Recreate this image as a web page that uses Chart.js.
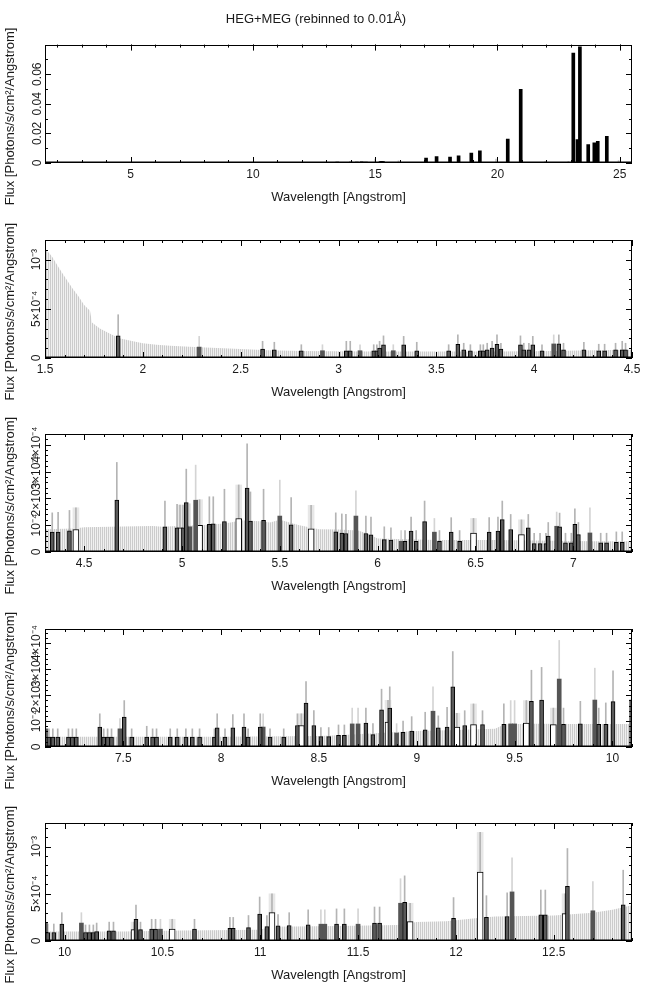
<!DOCTYPE html>
<html>
<head>
<meta charset="utf-8">
<title>HEG+MEG (rebinned to 0.01Å)</title>
<script src="https://cdn.jsdelivr.net/npm/chart.js@4.4.1/dist/chart.umd.min.js"></script>
<style>
  html, body { margin: 0; padding: 0; background: #fff; }
  body { position: relative; width: 650px; height: 991px; overflow: hidden; }
  canvas { position: absolute; left: 0; }
</style>
</head>
<body>
<canvas id="panel1" width="650" height="215" style="top:0px"></canvas>
<canvas id="panel2" width="650" height="215" style="top:204px"></canvas>
<canvas id="panel3" width="650" height="215" style="top:398px"></canvas>
<canvas id="panel4" width="650" height="215" style="top:593px"></canvas>
<canvas id="panel5" width="650" height="215" style="top:787px"></canvas>
<script>
Chart.defaults.font.family = "'Liberation Sans', Arial, Helvetica, sans-serif";
Chart.defaults.color = "#1a1a1a";
Chart.defaults.animation = false;

// ---------- panel 1: full range 1.5 - 25.5 A ----------
const p1XTicks = [5, 10, 15, 20, 25];
const p1XLabels = ["5", "10", "15", "20", "25"];
const p1YTicks = [0, 0.02, 0.04, 0.06];
const p1YLabels = ["0", "0.02", "0.04", "0.06"];
// [wavelength, flux]
const p1Lines = [
  [2.6, 0.0003], [3.9, 0.0003], [5.3, 0.0004], [6.8, 0.0003], [8.1, 0.0004],
  [9.3, 0.0004], [10.4, 0.0005], [11.2, 0.0004], [12.0, 0.0005], [12.6, 0.0004],
  [13.45, 0.0007], [14.0, 0.0006], [14.25, 0.0007], [14.45, 0.0008], [14.62, 0.0006],
  [15.22, 0.0009], [15.27, 0.0009], [15.32, 0.0009], [16.0, 0.0004],
  [17.08, 0.0033], [17.51, 0.0044], [18.06, 0.0040], [18.41, 0.0049], [18.93, 0.0067],
  [19.28, 0.0082], [20.42, 0.0162], [20.95, 0.0498], [23.1, 0.0743], [23.27, 0.0158],
  [23.37, 0.0785], [23.71, 0.0125], [23.96, 0.0136], [24.1, 0.0147], [24.47, 0.0181]
];
// [wavelength, upper error] for the isolated grey bars
const p1Errs = [[15.0, 0.0027], [15.95, 0.0014], [19.94, 0.0027], [21.95, 0.0012], [22.9, 0.0012], [24.95, 0.0016]];

// ---------- panel 2: 1.5 - 4.5 A ----------
const p2XTicks = [1.5, 2, 2.5, 3, 3.5, 4, 4.5];
const p2XLabels = ["1.5", "2", "2.5", "3", "3.5", "4", "4.5"];
const p2YTicks = [0, 5e-4, 1e-3];
const p2YLabels = ["0", "5×10⁻⁴", "10⁻³"];
// upper error envelope of the empty bins [wavelength, flux]
const p2Env = [
  [1.5, 11.0e-4], [1.52, 10.7e-4], [1.54, 10.2e-4], [1.57, 9.2e-4], [1.6, 8.3e-4], [1.64, 7.1e-4],
  [1.67, 6.3e-4], [1.7, 5.4e-4], [1.73, 4.8e-4], [1.74, 3.6e-4], [1.78, 3.0e-4], [1.83, 2.5e-4],
  [1.88, 2.0e-4], [1.95, 1.7e-4], [2.0, 1.5e-4], [2.07, 1.35e-4], [2.14, 1.25e-4], [2.29, 1.1e-4],
  [2.47, 0.94e-4], [2.64, 0.8e-4], [2.8, 0.72e-4], [2.97, 0.68e-4], [3.2, 0.66e-4], [3.5, 0.66e-4],
  [3.8, 0.66e-4], [4.1, 0.7e-4], [4.3, 0.8e-4], [4.5, 0.85e-4]
];
// detected bins [wavelength, flux, upper error, kind]  d = dark, g = grey, o = open
const p2Bins = [
  [1.874, 2.26e-4, 4.4e-4, "d"], [2.288, 1.11e-4, 2.2e-4, "g"], [2.612, 0.91e-4, 1.7e-4, "d"],
  [2.672, 0.84e-4, 1.6e-4, "d"], [2.81, 0.74e-4, 1.35e-4, "d"], [2.918, 0.74e-4, 1.35e-4, "g"],
  [3.04, 0.74e-4, 1.7e-4, "d"], [3.06, 0.74e-4, 1.7e-4, "d"], [3.11, 0.74e-4, 1.35e-4, "g"],
  [3.18, 0.74e-4, 1.35e-4, "d"], [3.196, 0.74e-4, 1.35e-4, "d"], [3.21, 1.0e-4, 1.7e-4, "d"],
  [3.23, 1.35e-4, 2.25e-4, "d"], [3.28, 0.74e-4, 1.35e-4, "g"], [3.333, 1.35e-4, 2.2e-4, "d"],
  [3.40, 0.74e-4, 1.6e-4, "d"], [3.563, 0.74e-4, 1.35e-4, "d"], [3.61, 1.4e-4, 2.35e-4, "d"],
  [3.64, 0.84e-4, 1.5e-4, "d"], [3.674, 0.74e-4, 1.35e-4, "d"], [3.725, 0.74e-4, 1.35e-4, "d"],
  [3.74, 0.74e-4, 1.35e-4, "d"], [3.76, 0.84e-4, 1.5e-4, "d"], [3.785, 1.0e-4, 1.7e-4, "d"],
  [3.81, 1.4e-4, 2.35e-4, "d"], [3.83, 0.9e-4, 1.5e-4, "d"], [3.93, 1.35e-4, 2.25e-4, "d"],
  [3.947, 0.84e-4, 1.5e-4, "d"], [3.973, 0.84e-4, 1.5e-4, "d"], [3.993, 1.35e-4, 2.2e-4, "d"],
  [4.04, 0.74e-4, 1.35e-4, "d"], [4.10, 1.43e-4, 2.35e-4, "g"], [4.126, 1.43e-4, 2.35e-4, "d"],
  [4.15, 0.84e-4, 1.5e-4, "d"], [4.254, 0.84e-4, 1.6e-4, "d"], [4.33, 0.74e-4, 1.4e-4, "d"],
  [4.36, 0.74e-4, 1.4e-4, "d"], [4.416, 0.84e-4, 1.5e-4, "d"], [4.45, 0.84e-4, 1.7e-4, "d"],
  [4.467, 0.84e-4, 1.5e-4, "d"]
];

// ---------- panel 3: 4.3 - 7.3 A ----------
const p3XTicks = [4.5, 5, 5.5, 6, 6.5, 7];
const p3XLabels = ["4.5", "5", "5.5", "6", "6.5", "7"];
const p3YTicks = [0, 1e-4, 2e-4, 3e-4, 4e-4];
const p3YLabels = ["0", "10⁻⁴", "2×10⁻⁴", "3×10⁻⁴", "4×10⁻⁴"];
const p3Env = [
  [4.3, 0.85e-4], [4.45, 0.88e-4], [4.5, 0.92e-4], [4.7, 0.95e-4], [4.85, 0.97e-4], [4.9, 0.94e-4],
  [5.0, 0.98e-4], [5.1, 1.0e-4], [5.2, 1.05e-4], [5.25, 1.1e-4], [5.3, 1.18e-4], [5.4, 1.15e-4],
  [5.45, 1.1e-4], [5.5, 1.2e-4], [5.55, 1.1e-4], [5.6, 1.0e-4], [5.7, 0.85e-4], [5.8, 0.84e-4],
  [5.9, 0.8e-4], [5.95, 0.68e-4], [6.0, 0.5e-4], [6.3, 0.45e-4], [6.6, 0.45e-4], [6.9, 0.42e-4],
  [7.1, 0.4e-4], [7.3, 0.4e-4]
];
const p3Bins = [
  [4.337, 0.74e-4, 1.46e-4, "d"], [4.367, 0.74e-4, 1.48e-4, "d"], [4.425, 0.79e-4, 1.55e-4, "d"],
  [4.458, 0.84e-4, 1.65e-4, "o"], [4.667, 1.94e-4, 3.34e-4, "d"], [4.913, 0.94e-4, 1.9e-4, "d"],
  [4.975, 0.9e-4, 1.78e-4, "d"], [4.99, 0.9e-4, 1.75e-4, "o"], [5.005, 0.9e-4, 1.75e-4, "d"],
  [5.022, 1.84e-4, 3.09e-4, "d"], [5.04, 0.94e-4, 1.8e-4, "g"], [5.07, 1.93e-4, 3.24e-4, "g"],
  [5.09, 0.99e-4, 1.95e-4, "o"], [5.14, 1.03e-4, 2.06e-4, "d"], [5.16, 1.05e-4, 2.06e-4, "d"],
  [5.217, 1.13e-4, 2.34e-4, "d"], [5.29, 1.25e-4, 2.5e-4, "o"], [5.333, 2.38e-4, 4.03e-4, "d"],
  [5.35, 1.15e-4, 2.24e-4, "d"], [5.417, 1.18e-4, 2.34e-4, "d"], [5.5, 1.34e-4, 2.68e-4, "g"],
  [5.558, 1.01e-4, 2.03e-4, "d"], [5.66, 0.86e-4, 1.74e-4, "o"], [5.786, 0.75e-4, 1.46e-4, "d"],
  [5.817, 0.71e-4, 1.42e-4, "d"], [5.838, 0.69e-4, 1.4e-4, "d"], [5.889, 1.34e-4, 2.28e-4, "g"],
  [5.94, 0.69e-4, 1.34e-4, "d"], [5.966, 0.64e-4, 1.3e-4, "d"], [6.034, 0.46e-4, 0.94e-4, "d"],
  [6.068, 0.44e-4, 0.9e-4, "d"], [6.12, 0.4e-4, 0.8e-4, "g"], [6.14, 0.4e-4, 0.8e-4, "d"],
  [6.171, 0.78e-4, 1.3e-4, "d"], [6.197, 0.4e-4, 0.8e-4, "d"], [6.24, 1.13e-4, 1.9e-4, "d"],
  [6.29, 0.74e-4, 1.25e-4, "g"], [6.316, 0.4e-4, 0.8e-4, "d"], [6.376, 0.74e-4, 1.28e-4, "d"],
  [6.419, 0.4e-4, 0.8e-4, "d"], [6.49, 0.71e-4, 1.25e-4, "o"], [6.57, 0.74e-4, 1.28e-4, "d"],
  [6.615, 0.78e-4, 1.3e-4, "d"], [6.637, 1.21e-4, 1.9e-4, "d"], [6.68, 0.84e-4, 1.4e-4, "d"],
  [6.735, 0.65e-4, 1.2e-4, "o"], [6.77, 0.9e-4, 1.4e-4, "d"], [6.8, 0.31e-4, 0.7e-4, "d"],
  [6.83, 0.31e-4, 0.7e-4, "d"], [6.86, 0.31e-4, 0.7e-4, "d"], [6.872, 0.59e-4, 1.1e-4, "d"],
  [6.915, 0.96e-4, 1.49e-4, "g"], [6.93, 0.94e-4, 1.45e-4, "d"], [6.96, 0.34e-4, 0.7e-4, "d"],
  [6.99, 0.34e-4, 0.7e-4, "d"], [7.008, 1.03e-4, 1.61e-4, "d"], [7.026, 0.65e-4, 1.1e-4, "d"],
  [7.085, 0.71e-4, 1.65e-4, "g"], [7.14, 0.34e-4, 0.7e-4, "d"], [7.17, 0.34e-4, 0.7e-4, "d"],
  [7.22, 0.36e-4, 0.75e-4, "d"], [7.25, 0.36e-4, 0.75e-4, "d"]
];

// ---------- panel 4: 7.1 - 10.1 A ----------
const p4XTicks = [7.5, 8, 8.5, 9, 9.5, 10];
const p4XLabels = ["7.5", "8", "8.5", "9", "9.5", "10"];
const p4YTicks = [0, 1e-4, 2e-4, 3e-4, 4e-4];
const p4YLabels = ["0", "10⁻⁴", "2×10⁻⁴", "3×10⁻⁴", "4×10⁻⁴"];
const p4Env = [
  [7.1, 0.4e-4], [7.5, 0.4e-4], [8.0, 0.4e-4], [8.5, 0.42e-4], [8.6, 0.45e-4], [8.9, 0.58e-4],
  [9.0, 0.62e-4], [9.2, 0.66e-4], [9.4, 0.7e-4], [9.45, 0.88e-4], [9.6, 0.9e-4], [9.8, 0.89e-4],
  [10.1, 0.89e-4]
];
const p4Bins = [
  [7.103, 0.7e-4, 1.1e-4, "g"], [7.12, 0.38e-4, 0.7e-4, "d"], [7.14, 0.38e-4, 0.7e-4, "d"],
  [7.165, 0.38e-4, 0.7e-4, "d"], [7.22, 0.38e-4, 0.7e-4, "d"], [7.24, 0.38e-4, 0.7e-4, "d"],
  [7.26, 0.38e-4, 0.7e-4, "d"], [7.38, 0.77e-4, 1.28e-4, "d"], [7.40, 0.38e-4, 0.7e-4, "d"],
  [7.42, 0.38e-4, 0.7e-4, "d"], [7.44, 0.38e-4, 0.7e-4, "d"], [7.483, 0.7e-4, 1.1e-4, "g"],
  [7.505, 1.15e-4, 1.79e-4, "d"], [7.543, 0.38e-4, 0.7e-4, "d"], [7.62, 0.38e-4, 0.8e-4, "d"],
  [7.65, 0.38e-4, 0.7e-4, "d"], [7.67, 0.38e-4, 0.7e-4, "d"], [7.74, 0.38e-4, 0.7e-4, "d"],
  [7.776, 0.38e-4, 0.7e-4, "d"], [7.82, 0.38e-4, 0.7e-4, "d"], [7.853, 0.38e-4, 0.7e-4, "d"],
  [7.89, 0.38e-4, 0.7e-4, "d"], [7.966, 0.38e-4, 0.7e-4, "d"], [7.98, 0.74e-4, 1.28e-4, "d"],
  [8.02, 0.38e-4, 0.7e-4, "d"], [8.06, 0.74e-4, 1.25e-4, "d"], [8.117, 0.77e-4, 1.28e-4, "d"],
  [8.138, 0.38e-4, 0.7e-4, "d"], [8.2, 0.77e-4, 1.28e-4, "d"], [8.215, 0.77e-4, 1.28e-4, "g"],
  [8.25, 0.38e-4, 0.7e-4, "d"], [8.32, 0.38e-4, 0.7e-4, "d"], [8.39, 0.83e-4, 1.28e-4, "d"],
  [8.41, 0.83e-4, 1.28e-4, "o"], [8.434, 1.69e-4, 2.52e-4, "d"], [8.474, 0.83e-4, 1.4e-4, "d"],
  [8.51, 0.4e-4, 0.75e-4, "d"], [8.55, 0.4e-4, 0.75e-4, "d"], [8.6, 0.45e-4, 0.85e-4, "d"],
  [8.63, 0.45e-4, 0.85e-4, "d"], [8.67, 0.89e-4, 1.5e-4, "g"], [8.70, 0.89e-4, 1.5e-4, "g"],
  [8.74, 0.92e-4, 1.5e-4, "d"], [8.776, 0.48e-4, 0.9e-4, "d"], [8.82, 1.43e-4, 2.23e-4, "d"],
  [8.853, 0.96e-4, 1.8e-4, "o"], [8.862, 1.5e-4, 2.32e-4, "d"], [8.897, 0.54e-4, 0.9e-4, "g"],
  [8.93, 0.57e-4, 1.0e-4, "d"], [8.974, 0.61e-4, 1.17e-4, "d"], [9.043, 0.66e-4, 1.34e-4, "d"],
  [9.083, 1.38e-4, 2.32e-4, "g"], [9.11, 0.74e-4, 1.2e-4, "d"], [9.155, 0.77e-4, 1.53e-4, "d"],
  [9.184, 2.32e-4, 3.68e-4, "d"], [9.205, 0.77e-4, 1.3e-4, "o"], [9.245, 0.83e-4, 1.4e-4, "d"],
  [9.29, 0.86e-4, 1.66e-4, "o"], [9.336, 0.86e-4, 1.4e-4, "d"], [9.445, 0.87e-4, 1.66e-4, "d"],
  [9.48, 0.89e-4, 1.79e-4, "g"], [9.5, 0.89e-4, 1.79e-4, "g"], [9.56, 0.92e-4, 1.79e-4, "o"],
  [9.586, 1.76e-4, 2.96e-4, "d"], [9.638, 1.81e-4, 3.07e-4, "d"], [9.698, 0.86e-4, 1.5e-4, "o"],
  [9.728, 2.62e-4, 4.11e-4, "g"], [9.75, 0.87e-4, 1.5e-4, "d"], [9.836, 0.89e-4, 1.76e-4, "d"],
  [9.91, 1.81e-4, 3.04e-4, "g"], [9.93, 0.87e-4, 1.5e-4, "d"], [9.966, 0.87e-4, 1.7e-4, "d"],
  [10.003, 1.75e-4, 2.94e-4, "d"], [10.098, 1.81e-4, 2.9e-4, "g"]
];

// ---------- panel 5: 9.9 - 12.9 A ----------
const p5XTicks = [10, 10.5, 11, 11.5, 12, 12.5];
const p5XLabels = ["10", "10.5", "11", "11.5", "12", "12.5"];
const p5YTicks = [0, 5e-4, 1e-3];
const p5YLabels = ["0", "5×10⁻⁴", "10⁻³"];
const p5Env = [
  [9.9, 0.1e-3], [10.3, 0.1e-3], [10.6, 0.11e-3], [11.0, 0.12e-3], [11.05, 0.15e-3], [11.4, 0.16e-3],
  [11.7, 0.17e-3], [11.8, 0.2e-3], [11.95, 0.21e-3], [12.1, 0.24e-3], [12.2, 0.26e-3], [12.5, 0.27e-3],
  [12.7, 0.3e-3], [12.8, 0.33e-3], [12.9, 0.38e-3]
];
const p5Bins = [
  [9.902, 0.196e-3, 0.3e-3, "g"], [9.914, 0.09e-3, 0.18e-3, "d"], [9.945, 0.09e-3, 0.18e-3, "d"],
  [9.986, 0.18e-3, 0.3e-3, "d"], [10.086, 0.19e-3, 0.3e-3, "g"], [10.107, 0.09e-3, 0.17e-3, "d"],
  [10.127, 0.09e-3, 0.17e-3, "d"], [10.147, 0.09e-3, 0.17e-3, "d"], [10.164, 0.1e-3, 0.19e-3, "d"],
  [10.228, 0.107e-3, 0.2e-3, "d"], [10.25, 0.107e-3, 0.2e-3, "d"], [10.355, 0.12e-3, 0.2e-3, "o"],
  [10.365, 0.23e-3, 0.38e-3, "d"], [10.388, 0.12e-3, 0.2e-3, "d"], [10.445, 0.125e-3, 0.23e-3, "d"],
  [10.465, 0.125e-3, 0.23e-3, "d"], [10.49, 0.125e-3, 0.23e-3, "g"], [10.55, 0.125e-3, 0.23e-3, "o"],
  [10.664, 0.125e-3, 0.23e-3, "d"], [10.845, 0.135e-3, 0.25e-3, "d"], [10.862, 0.135e-3, 0.25e-3, "d"],
  [10.94, 0.142e-3, 0.27e-3, "d"], [10.997, 0.285e-3, 0.466e-3, "d"], [11.034, 0.153e-3, 0.27e-3, "d"],
  [11.06, 0.3e-3, 0.5e-3, "o"], [11.091, 0.16e-3, 0.28e-3, "d"], [11.148, 0.164e-3, 0.3e-3, "d"],
  [11.245, 0.17e-3, 0.33e-3, "d"], [11.31, 0.178e-3, 0.33e-3, "g"], [11.33, 0.178e-3, 0.33e-3, "g"],
  [11.39, 0.178e-3, 0.34e-3, "d"], [11.43, 0.178e-3, 0.34e-3, "d"], [11.5, 0.178e-3, 0.34e-3, "g"],
  [11.584, 0.19e-3, 0.36e-3, "d"], [11.61, 0.19e-3, 0.36e-3, "d"], [11.717, 0.4e-3, 0.66e-3, "g"],
  [11.738, 0.41e-3, 0.69e-3, "d"], [11.766, 0.206e-3, 0.4e-3, "o"], [11.988, 0.24e-3, 0.46e-3, "d"],
  [12.124, 0.73e-3, 1.15e-3, "o"], [12.156, 0.25e-3, 0.48e-3, "d"], [12.262, 0.26e-3, 0.51e-3, "d"],
  [12.287, 0.52e-3, 0.88e-3, "g"], [12.434, 0.278e-3, 0.54e-3, "d"], [12.457, 0.278e-3, 0.54e-3, "d"],
  [12.558, 0.29e-3, 0.5e-3, "o"], [12.57, 0.58e-3, 0.98e-3, "d"], [12.7, 0.32e-3, 0.63e-3, "g"],
  [12.855, 0.384e-3, 0.75e-3, "d"]
];

// trailing spaces push the rotated title a little below the middle, as in the original
const FLUX_TITLE = "Flux [Photons/s/cm²/Angstrom]       ";
const WAVE_TITLE = "Wavelength [Angstrom]";

// thin vertical stripes, like the per-bin error bars of the original
function stripes() {
  const c = document.createElement("canvas");
  c.width = 2;
  c.height = 1;
  const g = c.getContext("2d");
  g.fillStyle = "#cbcbcb";
  g.fillRect(0, 0, 1, 1);
  g.fillStyle = "#f0f0f0";
  g.fillRect(1, 0, 1, 1);
  return g.createPattern(c, "repeat");
}
const envFill = stripes();

function steps(min, max, step) {
  let out = [];
  let n0 = Math.ceil(min / step - 1e-6);
  let n1 = Math.floor(max / step + 1e-6);
  for (let n = n0; n <= n1; n++) out.push(n * step);
  return out;
}

function binPoints(rows, kind) {
  return rows.filter(r => r[3] === kind).map(r => ({ x: r[0], y: r[1] }));
}

function errPoints(rows, kinds) {
  return rows.filter(r => kinds.includes(r[3])).map(r => ({ x: r[0], y: [r[1], r[2]] }));
}

function makePanel(id, p) {
  // inward ticks on all four sides plus the box
  const frame = {
    id: "frame",
    afterDatasetsDraw(chart) {
      const { ctx, chartArea: a } = chart;
      const x = chart.scales.x;
      const y = chart.scales.y;
      ctx.save();
      ctx.strokeStyle = "#000";
      ctx.lineWidth = 1;
      ctx.beginPath();
      const tickX = (v, len) => {
        const px = Math.round(x.getPixelForValue(v)) + 0.5;
        ctx.moveTo(px, a.bottom); ctx.lineTo(px, a.bottom - len);
        ctx.moveTo(px, a.top); ctx.lineTo(px, a.top + len);
      };
      const tickY = (v, len) => {
        const py = Math.round(y.getPixelForValue(v)) + 0.5;
        ctx.moveTo(a.left, py); ctx.lineTo(a.left + len, py);
        ctx.moveTo(a.right, py); ctx.lineTo(a.right - len, py);
      };
      steps(p.xMin, p.xMax, p.xMinor).forEach(v => tickX(v, 3));
      p.xTicks.forEach(v => tickX(v, 6));
      steps(0, p.yMax, p.yMinor).forEach(v => tickY(v, 3));
      p.yTicks.forEach(v => tickY(v, 6));
      ctx.stroke();
      ctx.strokeRect(Math.round(a.left) + 0.5, Math.round(a.top) + 0.5,
                     Math.round(a.width) - 1, Math.round(a.height) - 1);
      ctx.restore();
    }
  };

  let datasets = [];
  if (p.env) {
    datasets.push({
      type: "line", data: p.env.map(r => ({ x: r[0], y: r[1] })),
      fill: "origin", backgroundColor: envFill, borderWidth: 0,
      pointRadius: 0, tension: 0, order: 9
    });
  }
  if (p.bins) {
    datasets.push({ type: "bar", data: errPoints(p.bins, ["o"]), backgroundColor: "#e7e7e7",
                    barThickness: 6, grouped: false, order: 8 });
    datasets.push({ type: "bar", data: errPoints(p.bins, ["g"]), backgroundColor: "#d4d4d4",
                    barThickness: 1, grouped: false, order: 7 });
    datasets.push({ type: "bar", data: errPoints(p.bins, ["d", "o"]), backgroundColor: "#b4b4b4",
                    barThickness: 1, grouped: false, order: 7 });
    datasets.push({ type: "bar", data: binPoints(p.bins, "o"), backgroundColor: "#ffffff",
                    borderColor: "#000", borderWidth: 1, barThickness: 6, grouped: false, order: 5 });
    datasets.push({ type: "bar", data: binPoints(p.bins, "g"), backgroundColor: "#555555",
                    barThickness: 4, grouped: false, order: 4 });
    datasets.push({ type: "bar", data: binPoints(p.bins, "d"), backgroundColor: "#5a5a5a",
                    borderColor: "#000", borderWidth: 1, barThickness: 4, grouped: false, order: 3 });
  }
  if (p.lines) {
    datasets.push({ type: "bar", data: p.errs.map(r => ({ x: r[0], y: [0, r[1]] })),
                    backgroundColor: "#c8c8c8", barThickness: 1, grouped: false, order: 7 });
    datasets.push({ type: "bar", data: p.lines.map(r => ({ x: r[0], y: r[1] })),
                    backgroundColor: "#000", barThickness: 3, grouped: false, order: 3 });
  }
  // histogram sitting on zero
  datasets.push({
    type: "line", data: [{ x: p.xMin, y: 0 }, { x: p.xMax, y: 0 }],
    borderColor: "#000", borderWidth: 3, pointRadius: 0, order: 1
  });

  new Chart(document.getElementById(id), {
    type: "bar",
    data: { datasets: datasets },
    plugins: [frame],
    options: {
      responsive: false,
      animation: false,
      layout: { padding: { left: 0, right: 18, top: p.padTop, bottom: p.padBottom } },
      plugins: {
        legend: { display: false },
        tooltip: { enabled: false },
        title: p.title ? {
          display: true, text: p.title, color: "#1a1a1a",
          font: { size: 13, weight: "normal" }, padding: { top: 12, bottom: 17 }
        } : { display: false }
      },
      scales: {
        x: {
          type: "linear", min: p.xMin, max: p.xMax, offset: false,
          afterBuildTicks: s => { s.ticks = p.xTicks.map(v => ({ value: v })); },
          afterFit: s => { s.height = 42; },
          grid: { display: false, drawTicks: false },
          border: { display: false },
          ticks: { autoSkip: false, maxRotation: 0, padding: 4, font: { size: 12 },
                   callback: (v, i) => p.xLabels[i] },
          title: { display: true, text: WAVE_TITLE, font: { size: 13 }, padding: 0 }
        },
        y: {
          min: 0, max: p.yMax,
          afterBuildTicks: s => { s.ticks = p.yTicks.map(v => ({ value: v })); },
          afterFit: s => { s.width = 45; },
          grid: { display: false, drawTicks: false },
          border: { display: false },
          ticks: { autoSkip: false, minRotation: 90, maxRotation: 90, crossAlign: "center",
                   padding: p.yPad, font: { size: 12 }, callback: (v, i) => p.yLabels[i] },
          title: { display: true, text: FLUX_TITLE, font: { size: 13 }, padding: { top: 3, bottom: 0 } }
        }
      }
    }
  });
}

makePanel("panel1", {
  title: "HEG+MEG (rebinned to 0.01Å)", padTop: 0, padBottom: 10,
  xMin: 1.5, xMax: 25.5, xTicks: p1XTicks, xLabels: p1XLabels, xMinor: 1,
  yMax: 0.08, yTicks: p1YTicks, yLabels: p1YLabels, yMinor: 0.01, yPad: -4,
  lines: p1Lines, errs: p1Errs
});
makePanel("panel2", {
  padTop: 36, padBottom: 19,
  xMin: 1.5, xMax: 4.5, xTicks: p2XTicks, xLabels: p2XLabels, xMinor: 0.1,
  yMax: 1.2e-3, yTicks: p2YTicks, yLabels: p2YLabels, yMinor: 1e-4, yPad: -10,
  env: p2Env, bins: p2Bins
});
makePanel("panel3", {
  padTop: 36, padBottom: 19,
  xMin: 4.3, xMax: 7.3, xTicks: p3XTicks, xLabels: p3XLabels, xMinor: 0.1,
  yMax: 4.4e-4, yTicks: p3YTicks, yLabels: p3YLabels, yMinor: 2e-5, yPad: -10,
  env: p3Env, bins: p3Bins
});
makePanel("panel4", {
  padTop: 36, padBottom: 19,
  xMin: 7.1, xMax: 10.1, xTicks: p4XTicks, xLabels: p4XLabels, xMinor: 0.1,
  yMax: 4.55e-4, yTicks: p4YTicks, yLabels: p4YLabels, yMinor: 2e-5, yPad: -10,
  env: p4Env, bins: p4Bins
});
makePanel("panel5", {
  padTop: 36, padBottom: 19,
  xMin: 9.9, xMax: 12.9, xTicks: p5XTicks, xLabels: p5XLabels, xMinor: 0.1,
  yMax: 1.25e-3, yTicks: p5YTicks, yLabels: p5YLabels, yMinor: 1e-4, yPad: -10,
  env: p5Env, bins: p5Bins
});
</script>
</body>
</html>
